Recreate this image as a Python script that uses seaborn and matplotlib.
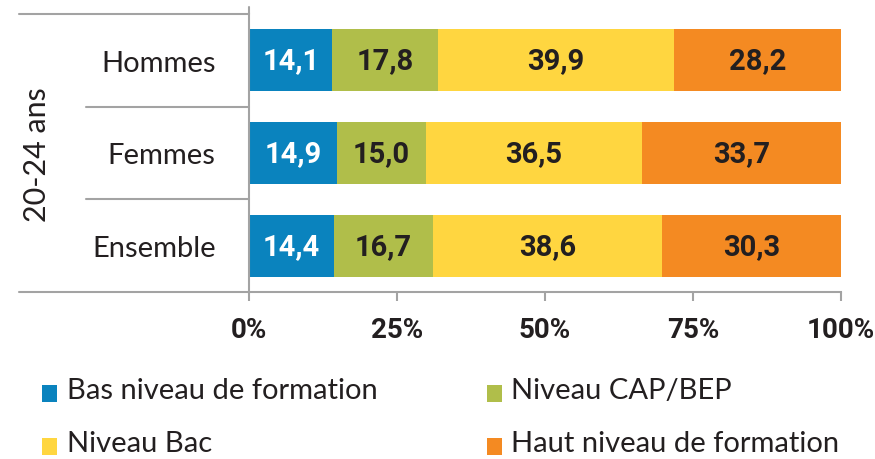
import numpy as np
import seaborn as sns
import matplotlib.pyplot as plt

# données : répartition des 20-24 ans par niveau de formation (%)
groupes = ["Hommes", "Femmes", "Ensemble"]
niveaux = ["Bas niveau de formation", "Niveau CAP/BEP", "Niveau Bac", "Haut niveau de formation"]
bas = [14.1, 14.9, 14.4]
cap_bep = [17.8, 15.0, 16.7]
bac = [39.9, 36.5, 38.6]
haut = [28.2, 33.7, 30.3]
couleurs = ["#0A83BE", "#B0BE4A", "#FFD640", "#F48A22"]
ticks = [0, 25, 50, 75, 100]
tick_labels = ["0%", "25%", "50%", "75%", "100%"]

sns.set_style("white")
plt.rcParams['font.family'] = ['Lato', 'DejaVu Sans']
num_font = ['Roboto', 'DejaVu Sans']
gris = "#A3A3A3"
texte = "#231F20"

fig = plt.figure(figsize=(8.75, 4.6), dpi=100)
ax = fig.add_axes([249 / 875, 1 - 293 / 460, 592 / 875, 278 / 460])

series = [bas, cap_bep, bac, haut]
cumul = np.cumsum(np.array(series), axis=0)

# barres empilées : on dessine les cumuls du plus grand au plus petit
for k in reversed(range(len(series))):
    sns.barplot(x=cumul[k], y=groupes, color=couleurs[k], orient="h", width=0.67,
                saturation=1, label=niveaux[k], ax=ax, linewidth=0)

# valeurs au milieu de chaque segment
for k, vals in enumerate(series):
    for i, v in enumerate(vals):
        ax.text(cumul[k][i] - v / 2, i, f"{v:.1f}".replace(".", ","),
                ha="center", va="center", fontsize=21, fontweight="bold",
                family=num_font, color="white" if k == 0 else texte)

ax.set_xlim(0, 100)
ax.set_ylim(2.5, -0.5)
ax.set_xticks(ticks)
ax.set_xticklabels(tick_labels, fontsize=20, fontweight="bold", family=num_font, color=texte)
ax.set_xlabel("")
ax.set_ylabel("")
ax.tick_params(axis="x", length=6.5, width=1.5, color=gris, pad=11, bottom=True)
ax.tick_params(axis="y", length=0, pad=24, labelsize=21, labelcolor=texte)

for s in ["top", "right"]:
    ax.spines[s].set_visible(False)
for s in ["left", "bottom"]:
    ax.spines[s].set_color(gris)
    ax.spines[s].set_linewidth(1.5)

# lignes du regroupement "20-24 ans"
tr = ax.get_yaxis_transform()
ax.plot([-0.389, 0], [-0.5, -0.5], transform=tr, color=gris, lw=1.5, clip_on=False)
ax.plot([-0.389, 0], [2.5, 2.5], transform=tr, color=gris, lw=1.5, clip_on=False)
ax.plot([0, 0], [-0.5, -0.58], transform=tr, color=gris, lw=1.5, clip_on=False)
for yb in [0.5, 1.5]:
    ax.plot([-0.275, 0], [yb, yb], transform=tr, color=gris, lw=1.5, clip_on=False)

fig.text(37 / 875, 1 - 155 / 460, "20-24 ans", rotation=90, ha="center", va="center",
         fontsize=22, color=texte)

# légende sur deux colonnes
handles, labels = ax.get_legend_handles_labels()
par_nom = dict(zip(labels, handles))
ordre = [niveaux[0], niveaux[2], niveaux[1], niveaux[3]]
leg = fig.legend([par_nom[n] for n in ordre], ordre, ncol=2, loc="upper left",
                 bbox_to_anchor=(16 / 875, 1 - 352 / 460), frameon=False, fontsize=21,
                 handlelength=0.51, handleheight=0.51, handletextpad=0.33,
                 columnspacing=3.75, labelspacing=0.93, labelcolor=texte)
# carrés posés sur la ligne de base, comme dans l'original
for h in leg.legend_handles:
    h.set_y(h.get_y() - 4)
if ax.legend_:
    ax.legend_.remove()

fig.savefig("out.png", dpi=100)
